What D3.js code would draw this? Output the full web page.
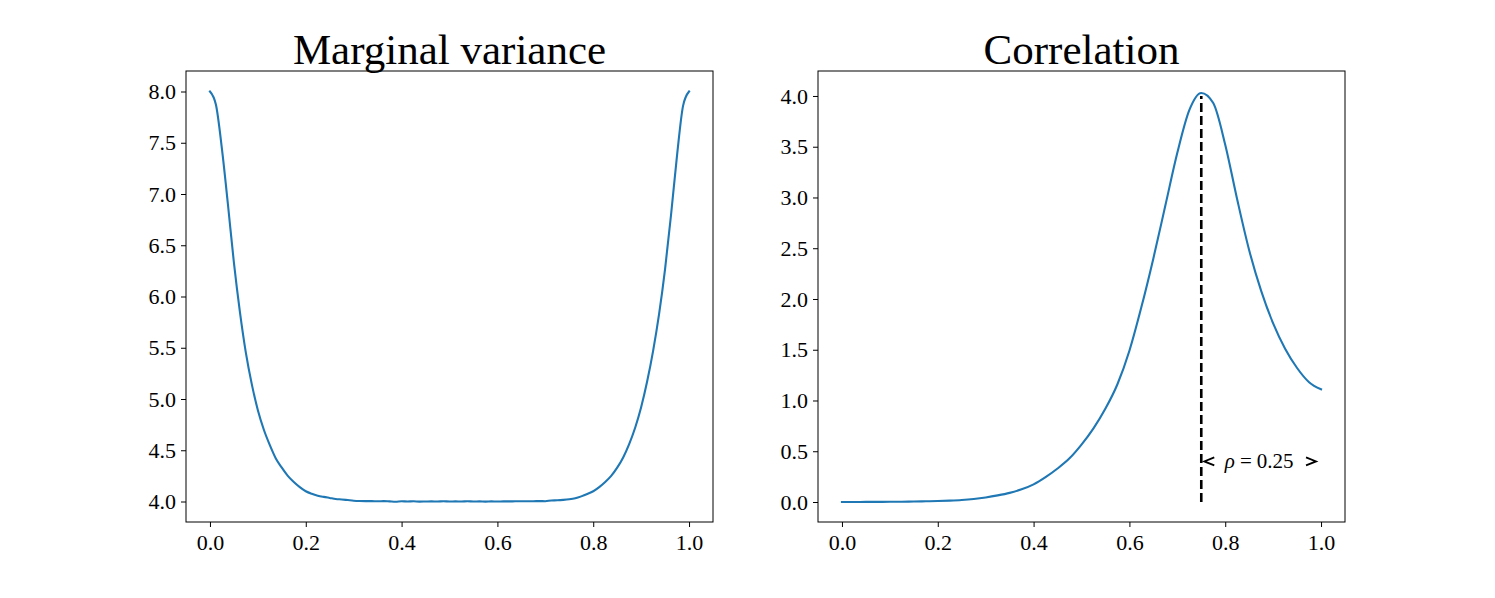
<!DOCTYPE html>
<html>
<head>
<meta charset="utf-8">
<title>Marginal variance and correlation</title>
<style>
  body { margin: 0; background: white; }
  svg { display: block; }
  text { font-family: "Liberation Serif", "DejaVu Serif", serif; fill: #000; }
</style>
</head>
<body>
<script src="https://cdnjs.cloudflare.com/ajax/libs/d3/7.8.5/d3.min.js"></script>
<script>
// sampling grid for both curves (81 / 41 points on [0, 1])
const gridFine = d3.range(0, 81).map(i => i / 80);
const gridCoarse = d3.range(0, 41).map(i => i / 40);

// left panel: marginal variance
const varianceValues = [
  8.00, 7.87, 7.44, 6.90, 6.33, 5.85, 5.45, 5.14, 4.89, 4.70,
  4.55, 4.42, 4.33, 4.25, 4.19, 4.14, 4.10, 4.075, 4.057, 4.045,
  4.035, 4.025, 4.02, 4.014, 4.008, 4.005, 4.004, 4.004, 4.002, 4.004,
  4.001, 3.998, 4.002, 4.000, 4.002, 3.999, 4.000, 4.001, 4.000, 4.002,
  4.000, 4.001, 4.000, 4.002, 4.000, 4.001, 3.999, 4.001, 4.000, 4.001,
  4.001, 4.002, 4.002, 4.003, 4.003, 4.004, 4.003, 4.010, 4.012, 4.016,
  4.022, 4.032, 4.050, 4.073, 4.10, 4.14, 4.19, 4.25, 4.33, 4.43,
  4.56, 4.72, 4.92, 5.17, 5.47, 5.83, 6.27, 6.80, 7.38, 7.86,
  8.00
];

// right panel: correlation
const correlationValues = [
  0.000, 0.000, 0.001, 0.001, 0.002, 0.003, 0.005, 0.007, 0.010, 0.014,
  0.020, 0.030, 0.045, 0.065, 0.090, 0.125, 0.174, 0.245, 0.330, 0.430,
  0.565, 0.725, 0.920, 1.160, 1.490, 1.920, 2.400, 2.920, 3.440, 3.860,
  4.030, 3.930, 3.520, 2.980, 2.480, 2.080, 1.760, 1.510, 1.320, 1.180,
  1.110
];

const xTicks = [0.0, 0.2, 0.4, 0.6, 0.8, 1.0];
const varianceTicks = [4.0, 4.5, 5.0, 5.5, 6.0, 6.5, 7.0, 7.5, 8.0];
const correlationTicks = [0.0, 0.5, 1.0, 1.5, 2.0, 2.5, 3.0, 3.5, 4.0];
const rhoMarker = 0.75;
const rhoLabelLevel = 0.4;
const rhoLabel = "0.25";

const W = 1495, H = 598;
const panelW = 527, panelH = 451, panelTop = 71;

const svg = d3.select("body").append("svg")
  .attr("width", W)
  .attr("height", H);

function drawPanel(left, title, xs, ys, yDomain, yTicks) {
  const x = d3.scaleLinear().domain([-0.05, 1.05]).range([left, left + panelW]);
  const y = d3.scaleLinear().domain(yDomain).range([panelTop + panelH, panelTop]);
  const g = svg.append("g");

  g.append("path")
    .datum(d3.zip(xs, ys))
    .attr("fill", "none")
    .attr("stroke", "#1f77b4")
    .attr("stroke-width", 2.1)
    .attr("stroke-linejoin", "round")
    .attr("stroke-linecap", "square")
    .attr("d", d3.line().curve(d3.curveMonotoneX).x(d => x(d[0])).y(d => y(d[1])));

  const xAxis = g.append("g")
    .attr("transform", `translate(0,${panelTop + panelH})`)
    .call(d3.axisBottom(x).tickValues(xTicks).tickFormat(d3.format(".1f"))
      .tickSize(5).tickPadding(7));
  const yAxis = g.append("g")
    .attr("transform", `translate(${left},0)`)
    .call(d3.axisLeft(y).tickValues(yTicks).tickFormat(d3.format(".1f"))
      .tickSize(5).tickPadding(5));
  [xAxis, yAxis].forEach(a => {
    a.select(".domain").remove();
    a.selectAll("line").attr("stroke", "#000").attr("stroke-width", 1);
    a.selectAll("text")
      .style("font-family", '"Liberation Serif", serif')
      .style("font-size", "22px")
      .attr("fill", "#000");
  });

  g.append("rect")
    .attr("x", left).attr("y", panelTop)
    .attr("width", panelW).attr("height", panelH)
    .attr("fill", "none")
    .attr("stroke", "#000")
    .attr("stroke-width", 1);

  g.append("text")
    .attr("x", left + panelW / 2)
    .attr("y", 64)
    .attr("text-anchor", "middle")
    .style("font-size", "43px")
    .text(title);

  return { x, y, g };
}

drawPanel(186, "Marginal variance", gridFine, varianceValues, [3.8, 8.2], varianceTicks);
const right = drawPanel(818, "Correlation", gridCoarse, correlationValues, [-0.197, 4.246], correlationTicks);

// dashed marker at rho position
const rx = right.x, ry = right.y;
right.g.append("line")
  .attr("x1", rx(rhoMarker)).attr("x2", rx(rhoMarker))
  .attr("y1", ry(0)).attr("y2", ry(4.0))
  .attr("stroke", "#000")
  .attr("stroke-width", 2.6)
  .attr("stroke-dasharray", "9,4");

// arrow heads and label
const ay = ry(rhoLabelLevel);
const lt = rx(rhoMarker) + 3, rt = rx(1.0) - 5;
right.g.append("path")
  .attr("d", `M${lt + 10},${ay - 4}L${lt},${ay}L${lt + 10},${ay + 4}`)
  .attr("fill", "none").attr("stroke", "#000").attr("stroke-width", 1.8);
right.g.append("path")
  .attr("d", `M${rt - 10},${ay - 4}L${rt},${ay}L${rt - 10},${ay + 4}`)
  .attr("fill", "none").attr("stroke", "#000").attr("stroke-width", 1.8);

const lab = right.g.append("text")
  .attr("x", rx((rhoMarker + 1.0) / 2) - 2)
  .attr("y", ay + 7)
  .attr("text-anchor", "middle")
  .style("font-size", "21px");
lab.append("tspan").style("font-style", "italic").text("ρ");
lab.append("tspan").attr("dx", 5).text("=");
lab.append("tspan").attr("dx", 5).text(rhoLabel);
</script>
</body>
</html>
